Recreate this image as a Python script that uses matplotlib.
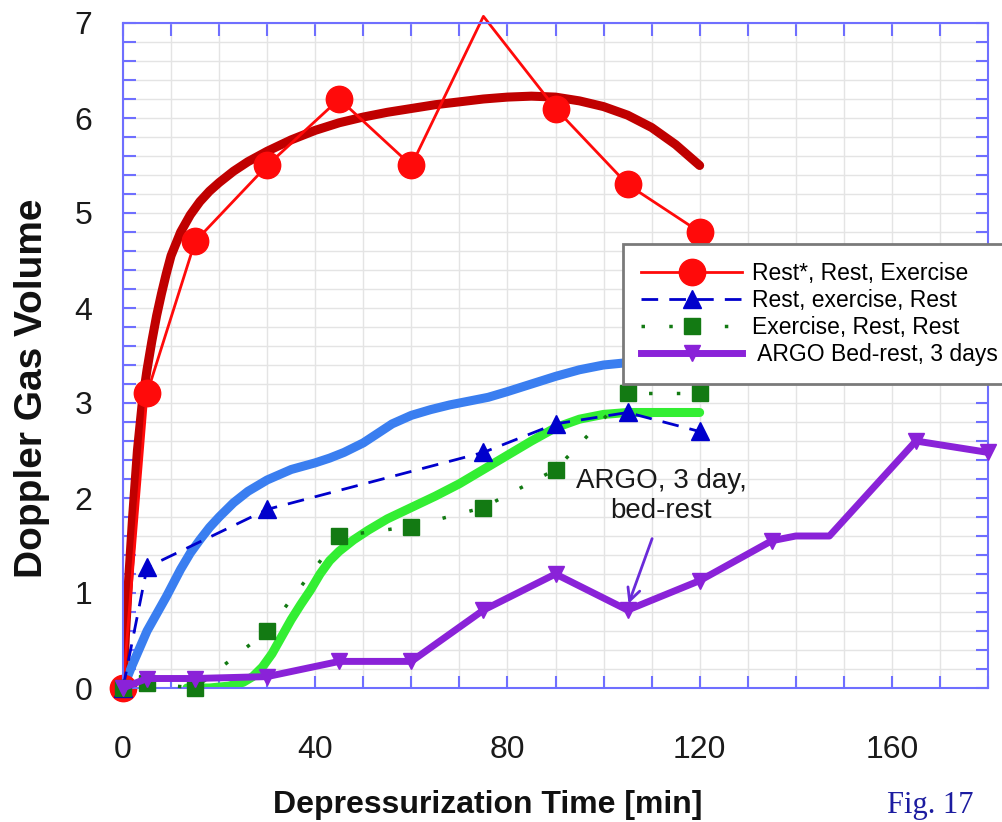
import matplotlib
matplotlib.use("Agg")
import matplotlib.pyplot as plt
from matplotlib.ticker import MultipleLocator

plt.rcParams['font.family'] = ['Liberation Sans', 'DejaVu Sans']

# measured points (minutes, doppler gas volume)
t_red = [0, 5, 15, 30, 45, 60, 75, 90, 105, 120]
v_red = [0, 3.1, 4.7, 5.5, 6.2, 5.5, 7.07, 6.1, 5.3, 4.8]
red_marks = [0, 1, 2, 3, 4, 5, 7, 8, 9]   # the 75 min point sits above the frame

t_blue = [0, 5, 30, 75, 90, 105, 120]
v_blue = [0, 1.27, 1.88, 2.48, 2.78, 2.9, 2.7]

t_green = [0, 5, 15, 30, 45, 60, 75, 90, 105, 120]
v_green = [0, 0.05, 0, 0.6, 1.6, 1.7, 1.9, 2.3, 3.1, 3.1]

t_argo = [0, 5, 15, 30, 45, 60, 75, 90, 105, 120, 135, 140, 147, 165, 180]
v_argo = [0, 0.1, 0.1, 0.12, 0.28, 0.28, 0.82, 1.2, 0.82, 1.13, 1.55, 1.6, 1.6, 2.6, 2.48]
argo_marks = [0, 1, 2, 3, 4, 5, 6, 7, 8, 9, 10, 13, 14]

t_fit_red = [0, 0.5, 1, 1.5, 2, 3, 4, 5, 6, 7, 8, 9, 10, 12, 14, 16, 18, 20, 23, 26, 30, 35, 40,
             45, 50, 55, 60, 65, 70, 75, 80, 85, 90, 95, 100, 105, 110, 115, 120]
v_fit_red = [0, 0.55, 1.0, 1.4, 1.8, 2.5, 3.0, 3.35, 3.65, 3.92, 4.15, 4.36, 4.55, 4.8, 4.98, 5.12,
             5.23, 5.32, 5.44, 5.54, 5.65, 5.77, 5.87, 5.95, 6.01, 6.06, 6.1, 6.14, 6.17, 6.2, 6.22,
             6.23, 6.22, 6.18, 6.12, 6.03, 5.9, 5.72, 5.5]

t_fit_blue = [0, 2, 5, 7, 9, 12, 14, 16, 18, 20, 23, 26, 30, 35, 40, 43, 46, 50, 53, 56, 60, 64,
              68, 72, 76, 80, 85, 90, 95, 100, 110, 120]
v_fit_blue = [0, 0.25, 0.6, 0.78, 0.96, 1.25, 1.42, 1.56, 1.69, 1.8, 1.95, 2.07, 2.19, 2.3, 2.37,
              2.42, 2.48, 2.58, 2.68, 2.78, 2.87, 2.93, 2.98, 3.02, 3.06, 3.12, 3.2, 3.28, 3.35,
              3.4, 3.45, 3.5]

t_fit_green = [13.3, 18, 22, 25, 27, 29, 31, 33, 35, 37, 39, 41, 43, 45, 48, 51, 55, 60, 65, 70,
               75, 80, 85, 90, 95, 100, 105, 110, 120]
v_fit_green = [0, 0, 0.02, 0.06, 0.12, 0.22, 0.36, 0.54, 0.72, 0.88, 1.03, 1.2, 1.34, 1.44, 1.56,
               1.66, 1.78, 1.9, 2.02, 2.15, 2.3, 2.45, 2.6, 2.74, 2.83, 2.88, 2.9, 2.9, 2.9]

frame = '#6f6fff'

fig = plt.figure(figsize=(10.03, 8.22), dpi=100)
ax = fig.add_axes([123/1003, 1 - 688/822, 865/1003, 665/822])

ax.plot(t_fit_red, v_fit_red, color='#c00000', lw=6.5, solid_capstyle='round',
        solid_joinstyle='round', zorder=2.2)
ax.plot(t_fit_blue, v_fit_blue, color='#3a7ef0', lw=6.5, solid_capstyle='round',
        solid_joinstyle='round', zorder=2.2)
ax.plot(t_fit_green, v_fit_green, color='#33ee33', lw=6.5, solid_capstyle='round',
        solid_joinstyle='round', zorder=2.2)

l_red, = ax.plot(t_red, v_red, color='#ff0a0a', lw=2, marker='o', ms=19, markevery=red_marks,
                 zorder=2.5, clip_on=False, label='Rest*, Rest, Exercise')
l_blue, = ax.plot(t_blue, v_blue, color='#0000cc', lw=2, ls=(0, (6, 4)), marker='^', ms=13,
                  zorder=3, clip_on=False, label='Rest, exercise, Rest')
l_green, = ax.plot(t_green, v_green, color='#137a13', lw=2.5, ls=(0, (1, 7)), marker='s', ms=11,
                   zorder=3, clip_on=False, label='Exercise, Rest, Rest')
l_argo, = ax.plot(t_argo, v_argo, color='#8a22d8', lw=5, marker='v', ms=11, markevery=argo_marks,
                  zorder=4, clip_on=False, label=' ARGO Bed-rest, 3 days')

ax.annotate('', xy=(105, 0.86), xytext=(110.3, 1.6),
            arrowprops=dict(arrowstyle='->,head_length=0.9,head_width=0.45', color='#6a2bd9', lw=2))
ax.text(112, 2.02, 'ARGO, 3 day,\nbed-rest', ha='center', va='center', fontsize=20,
        linespacing=1.2, color='#1a1a1a')

ax.set_xlim(0, 180)
ax.set_ylim(0, 7)
ax.xaxis.set_major_locator(MultipleLocator(40))
ax.xaxis.set_minor_locator(MultipleLocator(10))
ax.yaxis.set_major_locator(MultipleLocator(1))
ax.yaxis.set_minor_locator(MultipleLocator(0.2))
ax.grid(which='both', color='#e4e4e4', lw=1, zorder=0)
ax.set_axisbelow(True)
ax.tick_params(which='both', direction='in', top=True, right=True, length=9, width=1.5,
               color=frame, labelsize=23, labelcolor='#1a1a1a')
ax.tick_params(axis='x', pad=34)
ax.tick_params(axis='y', pad=22)
for s in ax.spines.values():
    s.set_color(frame)
    s.set_linewidth(1.5)

fig.text(32/1003, 1 - 388/822, 'Doppler Gas Volume', rotation=90, ha='center', va='center',
         fontsize=28, fontweight='bold', color='#111111')
fig.text(488/1003, 1 - 805/822, 'Depressurization Time [min]', ha='center', va='center',
         fontsize=23, fontweight='bold', color='#111111')
fig.text(930/1003, 1 - 805/822, 'Fig. 17', ha='center', va='center', fontsize=22,
         family='Liberation Serif', color='#1c1ca0')

leg = fig.legend(handles=[l_red, l_blue, l_green, l_argo], loc='upper left',
                 bbox_to_anchor=(623/1003, 1 - 244/822), borderaxespad=0, fontsize=16.5,
                 handlelength=4.4, handletextpad=0.45, labelspacing=0.17, borderpad=0.8,
                 fancybox=False, framealpha=1, edgecolor='#7a7a7a')
leg.get_frame().set_linewidth(2)
leg.set_zorder(5)

fig.savefig('out.png', dpi=100)
